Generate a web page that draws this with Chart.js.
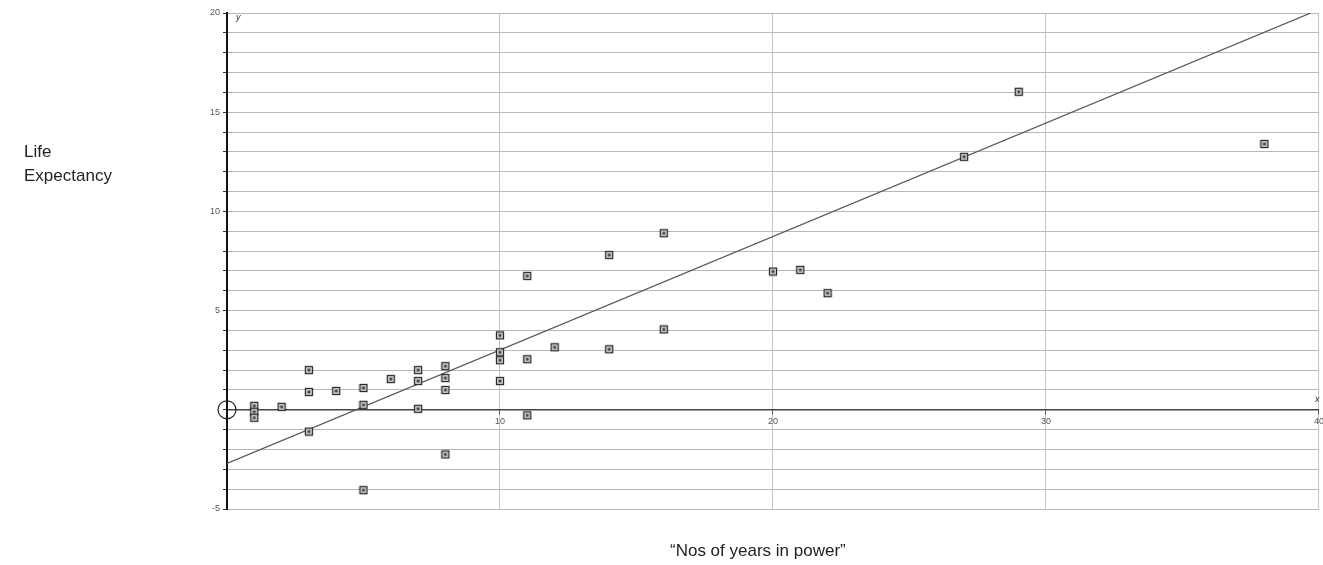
<!DOCTYPE html>
<html>
<head>
<meta charset="utf-8">
<script src="https://cdn.jsdelivr.net/npm/chart.js@4/dist/chart.umd.min.js"></script>
<style>
  html, body { margin: 0; padding: 0; background: #fff; overflow: hidden; }
  #wrap { position: relative; width: 1323px; height: 565px; overflow: hidden; }
  #chart { position: absolute; left: 0; top: 0; }
  .lbl { position: absolute; font-family: "Liberation Sans", Arial, sans-serif; font-size: 17px; color: #222; line-height: 24px; }
</style>
</head>
<body>
<div id="wrap">
  <canvas id="chart" width="1326" height="565"></canvas>
  <div class="lbl" style="left:24px; top:140px;">Life<br>Expectancy</div>
  <div class="lbl" style="left:670px; top:539px;">“Nos of years in power”</div>
</div>
<script>
// years in power (x) vs life expectancy change (y)
const yearsInPower = [1, 1, 1, 2, 3, 3, 3, 4, 5, 5, 5, 6, 7, 7, 7, 8, 8, 8, 8,
  10, 10, 10, 10, 11, 11, 11, 12, 14, 14, 16, 16, 20, 21, 22, 27, 29, 38];
const lifeExpectancy = [0.2, -0.1, -0.4, 0.15, 2.0, 0.9, -1.1, 0.95, 1.1, 0.25, -4.05, 1.55, 2.0, 1.45, 0.05, 2.2, 1.6, 1.0, -2.25,
  3.75, 2.9, 2.5, 1.45, 6.75, 2.55, -0.28, 3.15, 7.8, 3.05, 8.9, 4.05, 6.97, 7.05, 5.88, 12.75, 16.03, 13.4];
// fitted line, read at both ends
const trendX = [0, 39.7];
const trendY = [-2.7, 20];
const xTicks = [10, 20, 30, 40];
const yTicks = [-5, 5, 10, 15, 20];

// square marker with a dark centre
function makeMarker(){
    const c = document.createElement('canvas');
    c.width = 10; c.height = 10;
    const g = c.getContext('2d');
    g.fillStyle = '#dedede';
    g.fillRect(1, 1, 8, 8);
    g.strokeStyle = '#2a2a2a';
    g.lineWidth = 1.3;
    g.strokeRect(1.5, 1.5, 7, 7);
    g.fillStyle = '#444';
    g.fillRect(3.5, 3.5, 3, 3);
    return c;
}

const points = yearsInPower.map((x, i) => ({x: x, y: lifeExpectancy[i]}));
const trend = trendX.map((x, i) => ({x: x, y: trendY[i]}));

const originMarks = {
    id: 'originMarks',
    afterDraw(chart){
        const g = chart.ctx;
        const xs = chart.scales.x, ys = chart.scales.y;
        const ox = xs.getPixelForValue(0), oy = ys.getPixelForValue(0);
        g.save();
        g.strokeStyle = '#222';
        g.lineWidth = 1.2;
        g.beginPath();
        g.arc(ox, oy, 9, 0, Math.PI * 2);
        g.stroke();
        g.fillStyle = '#333';
        g.font = 'italic 9px "Liberation Sans", Arial, sans-serif';
        g.fillText('y', ox + 9, ys.getPixelForValue(20) + 7);
        g.fillText('x', xs.getPixelForValue(40) - 4, oy - 8);
        g.restore();
    }
};

new Chart(document.getElementById('chart').getContext('2d'), {
    type: 'scatter',
    data: {
        datasets: [
            {
                label: 'Life expectancy',
                data: points,
                pointStyle: makeMarker(),
                pointRadius: 5,
                order: 1
            },
            {
                type: 'line',
                label: 'Trend',
                data: trend,
                borderColor: '#555',
                borderWidth: 1.3,
                pointRadius: 0,
                fill: false,
                order: 2
            }
        ]
    },
    options: {
        responsive: false,
        animation: false,
        layout: { padding: { left: 0, right: 5, top: 13, bottom: 56 } },
        plugins: { legend: { display: false }, tooltip: { enabled: false } },
        scales: {
            x: {
                type: 'linear',
                position: { y: 0 },
                min: 0, max: 40,
                afterBuildTicks(scale){ scale.ticks = [0].concat(xTicks).map(v => ({value: v})); },
                grid: { color: '#c4c4c4', lineWidth: 1, tickLength: 4, tickColor: '#555' },
                border: { display: true, color: '#444', width: 1.5 },
                ticks: {
                    color: '#555', padding: 2, maxRotation: 0,
                    font: { family: '"Liberation Sans", Arial, sans-serif', size: 9 },
                    callback: v => xTicks.includes(v) ? String(v) : ''
                }
            },
            y: {
                type: 'linear',
                position: 'left',
                min: -5, max: 20,
                afterFit(scale){ scale.width = 227; },
                grid: { color: '#b8b8b8', lineWidth: 1, tickLength: 4, tickColor: '#333' },
                border: { display: true, color: '#111', width: 2 },
                ticks: {
                    stepSize: 1, color: '#555', padding: 3, autoSkip: false,
                    font: { family: '"Liberation Sans", Arial, sans-serif', size: 9 },
                    callback: v => yTicks.includes(v) ? String(v) : ''
                }
            }
        }
    },
    plugins: [originMarks]
});
</script>
</body>
</html>
